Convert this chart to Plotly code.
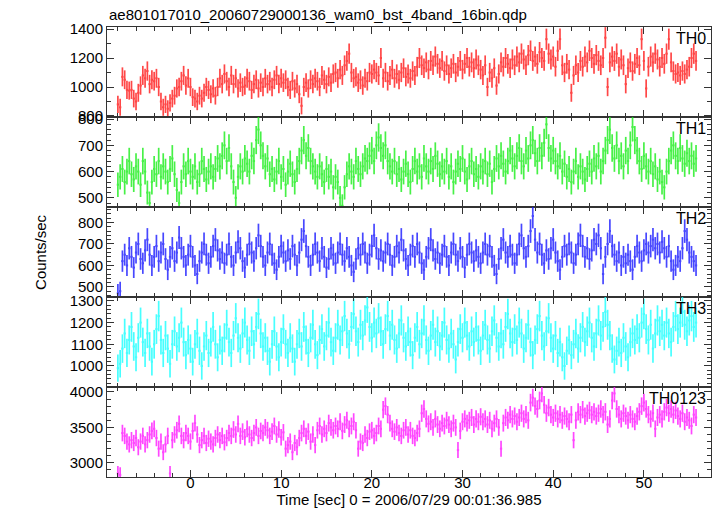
import numpy as np
import plotly.graph_objects as go
from plotly.subplots import make_subplots

# ---- data (0.25 s bins, counts/sec) ----
BIN_SEC = 0.25
t_start = -8.0
n_bins = 256
time = [t_start + BIN_SEC * i for i in range(n_bins)]

th0 = [
    880, 860, 1070, 1050, 980, 975, 980, 920, 900, 960, 1010, 1080, 1060, 1110, 1020, 1050,
    1040, 1060, 1000, 900, 860, 880, 850, 890, 920, 940, 990, 1000, 1040, 1080, 1010, 1060,
    1000, 930, 920, 900, 940, 920, 960, 1000, 980, 950, 990, 940, 1000, 1060, 1020, 1090,
    1040, 1000, 1080, 1020, 1060, 990, 1030, 1000, 1010, 1060, 1040, 980, 1020, 1050, 990, 1030,
    1000, 1060, 1020, 1040, 1000, 1050, 1080, 1020, 1060, 1030, 1050, 1000, 980, 1040, 990, 1020,
    950, 870, 1000, 1030, 990, 1050, 1020, 1060, 1040, 1000, 1080, 1050, 1020, 1070, 1030, 1090,
    1100, 1060, 1120, 1080, 1150, 1180, 1230, 1100, 1060, 1070, 1030, 1050, 1010, 1060, 1040, 1100,
    1090, 1120, 1100, 1080, 1200, 1060, 1100, 1040, 1080, 1120, 1060, 1090, 1050, 1100, 1130, 1070,
    1090, 1060, 1110, 1080, 1140, 1200, 1150, 1130, 1170, 1120, 1180, 1150, 1210, 1160, 1130, 1180,
    1110, 1150, 1090, 1130, 1160, 1100, 1140, 1180, 1120, 1160, 1200, 1140, 1170, 1130, 1190, 1150,
    1120, 1080, 1150, 1000, 1100, 1060, 1130, 1010, 1090, 1170, 1140, 1200, 1160, 1130, 1190, 1150,
    1210, 1170, 1230, 1190, 1150, 1220, 1250, 1180, 1210, 1160, 1240, 1200, 1180, 1330, 1230, 1190,
    1210, 1140, 1250, 1330, 1150, 1100, 1160, 1120, 960, 1080, 1150, 1100, 1180, 1140, 1210, 1170,
    1250, 1200, 1160, 1220, 1180, 1150, 1200, 1340, 1000, 1170, 1210, 1180, 1230, 1140, 1190, 1150,
    1020, 1130, 1170, 1110, 1160, 1200, 1150, 1330, 1180, 990, 1140, 1210, 1170, 1230, 1190, 1140,
    1200, 1160, 1230, 1330, 1170, 1110, 1090, 1100, 1080, 1110, 1090, 1120, 1140, 1200, 1230, 1180,
]
th1 = [
    550, 580, 610, 560, 600, 640, 590, 570, 620, 600, 550, 640, 600, 520, 480, 560,
    610, 590, 640, 580, 620, 600, 560, 610, 650, 590, 530, 480, 560, 620, 590, 640,
    600, 580, 620, 560, 590, 640, 610, 570, 600, 620, 580, 610, 650, 620, 660, 700,
    640, 690, 620, 560, 500, 580, 620, 600, 650, 630, 600, 660, 640, 720, 760, 700,
    660, 620, 650, 590, 610, 570, 600, 640, 580, 610, 550, 600, 630, 590, 560, 610,
    640, 680, 720, 660, 690, 640, 620, 600, 580, 620, 590, 560, 610, 580, 600, 540,
    580, 560, 500, 470, 540, 590, 620, 600, 580, 640, 610, 590, 620, 650, 640, 660,
    680, 640, 700, 730, 690, 660, 700, 640, 620, 600, 640, 590, 610, 570, 600, 630,
    590, 560, 610, 640, 600, 620, 580, 650, 620, 600, 640, 610, 660, 630, 590, 620,
    600, 640, 580, 620, 560, 600, 630, 610, 650, 600, 570, 620, 640, 590, 610, 580,
    620, 600, 640, 590, 630, 560, 610, 650, 620, 660, 630, 600, 640, 680, 650, 620,
    660, 690, 640, 620, 680, 650, 700, 720, 670, 640, 690, 660, 710, 780, 690, 650,
    680, 640, 620, 660, 600, 630, 580, 610, 560, 600, 640, 580, 620, 600, 570, 610,
    630, 600, 650, 620, 660, 600, 640, 680, 720, 760, 690, 650, 700, 640, 660, 620,
    680, 640, 700, 770, 720, 680, 640, 610, 660, 620, 600, 640, 590, 620, 570, 600,
    560, 540, 600, 640, 680, 700, 660, 640, 690, 650, 630, 670, 640, 660, 630, 650,
]
th2 = [
    470, 480, 620, 650, 600, 680, 640, 590, 660, 700, 630, 610, 670, 720, 650, 600,
    640, 690, 620, 660, 700, 630, 580, 640, 680, 620, 660, 730, 680, 640, 600, 650,
    690, 640, 600, 560, 620, 660, 700, 650, 610, 640, 690, 720, 670, 630, 660, 610,
    650, 700, 640, 600, 660, 710, 680, 620, 590, 650, 700, 660, 620, 680, 740, 690,
    640, 600, 660, 700, 650, 610, 580, 640, 690, 660, 620, 670, 630, 690, 650, 600,
    660, 720, 760, 690, 640, 600, 650, 700, 660, 620, 680, 640, 590, 630, 680, 650,
    610, 660, 700, 650, 620, 680, 640, 600, 570, 630, 680, 650, 700, 660, 610, 650,
    690, 740, 680, 630, 670, 620, 660, 700, 650, 600, 640, 690, 660, 720, 670, 630,
    600, 650, 690, 640, 700, 660, 610, 580, 640, 680, 720, 670, 630, 660, 610, 650,
    690, 640, 600, 660, 700, 650, 620, 680, 640, 590, 650, 700, 660, 620, 670, 640,
    610, 660, 700, 650, 690, 640, 600, 560, 630, 680, 720, 660, 640, 690, 650, 610,
    650, 700, 740, 680, 640, 690, 760, 830, 720, 660, 700, 650, 610, 670, 630, 680,
    720, 660, 620, 580, 640, 690, 650, 700, 660, 610, 650, 700, 740, 690, 640, 680,
    630, 670, 720, 700, 740, 680, 560, 640, 700, 760, 690, 650, 620, 660, 600, 640,
    610, 650, 620, 580, 640, 690, 660, 620, 670, 700, 660, 690, 720, 680, 700, 660,
    710, 680, 640, 690, 620, 580, 600, 640, 620, 680, 760, 720, 660, 640, 620, 600,
]
th3 = [
    990, 1010, 1080, 1150, 1060, 1120, 1180, 1090, 1040, 1130, 1200, 1110, 1060, 1150, 1090, 1020,
    1100, 1170, 1230, 1120, 1060, 1140, 1080, 1010, 1100, 1160, 1090, 1130, 1200, 1110, 1050, 1120,
    1080, 1020, 1100, 1150, 1070, 1000, 1090, 1140, 1060, 1110, 1180, 1100, 1040, 1120, 1070, 1130,
    1190, 1110, 1060, 1140, 1220, 1130, 1080, 1150, 1200, 1120, 1070, 1160, 1100, 1180, 1240, 1150,
    1090, 1130, 1070, 1020, 1100, 1160, 1090, 1040, 1110, 1170, 1100, 1060, 1130, 1080, 1020, 1100,
    1150, 1090, 1180, 1120, 1060, 1130, 1190, 1100, 1050, 1120, 1170, 1090, 1140, 1200, 1110, 1070,
    1130, 1190, 1120, 1160, 1230, 1150, 1100, 1180, 1240, 1160, 1110, 1190, 1140, 1210, 1270, 1180,
    1130, 1200, 1150, 1220, 1160, 1100, 1170, 1230, 1140, 1190, 1120, 1080, 1150, 1210, 1130, 1090,
    1160, 1110, 1050, 1130, 1180, 1100, 1150, 1210, 1120, 1070, 1140, 1190, 1110, 1160, 1090, 1140,
    1200, 1120, 1080, 1150, 1100, 1030, 1110, 1170, 1130, 1200, 1140, 1090, 1160, 1110, 1180, 1120,
    1070, 1140, 1190, 1120, 1080, 1160, 1210, 1130, 1090, 1150, 1100, 1180, 1240, 1150, 1110, 1170,
    1120, 1200, 1150, 1080, 1130, 1190, 1110, 1050, 1120, 1170, 1230, 1140, 1090, 1160, 1220, 1130,
    1080, 1140, 1060, 1110, 1040, 1000, 1070, 1120, 1050, 1100, 1150, 1080, 1130, 1180, 1110, 1160,
    1200, 1130, 1090, 1150, 1210, 1140, 1180, 1250, 1190, 1140, 1080, 1030, 1070, 1110, 1060, 1130,
    1090, 1040, 1110, 1150, 1120, 1170, 1130, 1200, 1240, 1170, 1120, 1190, 1080, 1150, 1210, 1160,
    1190, 1140, 1200, 1150, 1110, 1180, 1230, 1170, 1200, 1250, 1190, 1160, 1210, 1230, 1180, 1200,
]
th0123 = [
    2850, 2830, 3420, 3380, 3300, 3260, 3320, 3280, 3350, 3220, 3300, 3380, 3260, 3320, 3400, 3450,
    3480, 3350, 3200, 3300, 3150, 3260, 3380, 2850, 3320, 3400, 3460, 3550, 3380, 3320, 3420, 3380,
    3300, 3450, 3560, 3400, 3250, 3320, 3380, 3280, 3340, 3300, 3260, 3350, 3400, 3320, 3380, 3290,
    3350, 3420, 3380, 3470, 3400, 3550, 3380, 3440, 3360, 3480, 3400, 3350, 3420, 3500, 3380, 3450,
    3420, 3500, 3460, 3380, 3440, 3520, 3400, 3470, 3360, 3430, 3200, 3250, 3300, 3150, 3280, 3220,
    3350, 3420, 3480, 3380, 3440, 3300, 3400, 3250, 3460, 3520, 3400, 3480, 3420, 3560, 3500, 3460,
    3520, 3480, 3580, 3450, 3540, 3600, 3480, 3520, 3580, 3460, 3200, 3300, 3280, 3400, 3350, 3440,
    3460, 3380, 3420, 3520, 3480, 3750, 3800, 3680, 3560, 3480, 3440, 3500, 3420, 3380, 3460, 3500,
    3400, 3460, 3380, 3350, 3420, 3480, 3700, 3760, 3620, 3550, 3580, 3500, 3620, 3540, 3480, 3560,
    3520, 3600, 3540, 3480, 3560, 3500, 3180, 3450, 3580, 3620, 3560, 3600, 3640, 3540, 3620, 3580,
    3650, 3580, 3620, 3540, 3600, 3480, 3560, 3620, 3500, 3200, 3560, 3640, 3600, 3680, 3620, 3660,
    3580, 3640, 3700, 3620, 3680, 3600, 3850, 3920, 3800, 3760, 3880, 3980, 3820, 3700, 3780, 3680,
    3640, 3700, 3620, 3680, 3600, 3660, 3620, 3580, 3680, 3320, 3600, 3720, 3680, 3750, 3660, 3700,
    3740, 3680, 3720, 3660, 3700, 3760, 3680, 3720, 3540, 3620, 3880, 3980, 3760, 3680, 3620, 3700,
    3660, 3600, 3680, 3620, 3580, 3660, 3720, 3800, 3850, 3760, 3680, 3620, 3700, 3480, 3640, 3680,
    3620, 3720, 3780, 3700, 3760, 3680, 3740, 3660, 3620, 3700, 3580, 3640, 3600, 3520, 3680, 3640,
]

band_names = ["TH0", "TH1", "TH2", "TH3", "TH0123"]
band_series = [th0, th1, th2, th3, th0123]
band_colors = ["#ff1a1a", "#1aee1a", "#1a1aff", "#1affff", "#ff1aff"]
y_ranges = [[793, 1414], [465, 808], [453, 872], [903, 1318], [2800, 4070]]
y_dticks = [200, 100, 100, 100, 500]
y_minor = [100, 20, 20, 20, 100]

title_text = "ae801017010_20060729000136_wam0_bst_4band_16bin.qdp"
x_title = "Time [sec] 0 = 2006/07/29 00:01:36.985"
y_title = "Counts/sec"

FONT = "Liberation Sans, Arial, Helvetica, sans-serif"
AXC = "#333"

fig = make_subplots(rows=5, cols=1, shared_xaxes=True, vertical_spacing=0)

for i, (name, vals, col) in enumerate(zip(band_names, band_series, band_colors)):
    v = np.array(vals, dtype=float)
    err = np.sqrt(v * BIN_SEC) / BIN_SEC  # Poisson error for the bin
    fig.add_trace(
        go.Scatter(
            x=time, y=vals, mode="markers",
            marker=dict(size=1, color=col),
            error_y=dict(type="data", array=err, visible=True, thickness=1.7, width=0, color=col),
            error_x=dict(type="constant", value=BIN_SEC / 2, visible=True, thickness=2, width=0, color=col),
            showlegend=False, name=name, opacity=0.8,
        ),
        row=i + 1, col=1,
    )
    fig.update_yaxes(
        range=y_ranges[i], dtick=y_dticks[i], tick0=0,
        minor=dict(ticks="inside", ticklen=4, dtick=y_minor[i], tick0=0, tickcolor=AXC),
        row=i + 1, col=1,
    )
    fig.add_annotation(
        text=name, xref="x domain", yref="y domain",
        x=0.995, y=0.99, xanchor="right", yanchor="top", showarrow=False,
        font=dict(family=FONT, size=16, color="black"),
        row=i + 1, col=1,
    )

fig.update_yaxes(
    ticks="inside", ticklen=7, tickwidth=1, tickcolor=AXC,
    showline=True, linecolor=AXC, linewidth=1, mirror="ticks",
    showgrid=False, zeroline=False,
    tickfont=dict(family=FONT, size=15, color="black"),
)
fig.update_xaxes(
    range=[-9.2, 57.4], dtick=10, tick0=0,
    ticks="inside", ticklen=7, tickwidth=1, tickcolor=AXC,
    minor=dict(ticks="inside", ticklen=4, dtick=2, tick0=0, tickcolor=AXC),
    showline=True, linecolor=AXC, linewidth=1, mirror="ticks",
    showgrid=False, zeroline=False,
    tickfont=dict(family=FONT, size=15, color="black"),
)
fig.update_xaxes(
    ticklabelstandoff=-8,
    title=dict(text=x_title, font=dict(family=FONT, size=15, color="black"), standoff=0),
    row=5, col=1,
)

fig.add_annotation(
    text=title_text, xref="paper", yref="paper", x=0, y=1, xanchor="left", yanchor="bottom",
    yshift=2, showarrow=False, font=dict(family=FONT, size=15, color="black"),
)
fig.add_annotation(
    text=y_title, xref="paper", yref="paper", x=-0.111, y=0.5, xanchor="center", yanchor="middle",
    textangle=-90, showarrow=False, font=dict(family=FONT, size=15, color="black"),
)

fig.update_layout(
    width=717, height=516,
    margin=dict(l=107, r=6, t=27, b=39),
    paper_bgcolor="white", plot_bgcolor="white",
    font=dict(family=FONT, size=15, color="black"),
)

fig.write_html(
    "out.html",
    config={"displayModeBar": False},
    post_script="document.body.style.margin='0px';document.body.style.overflow='hidden';",
)
